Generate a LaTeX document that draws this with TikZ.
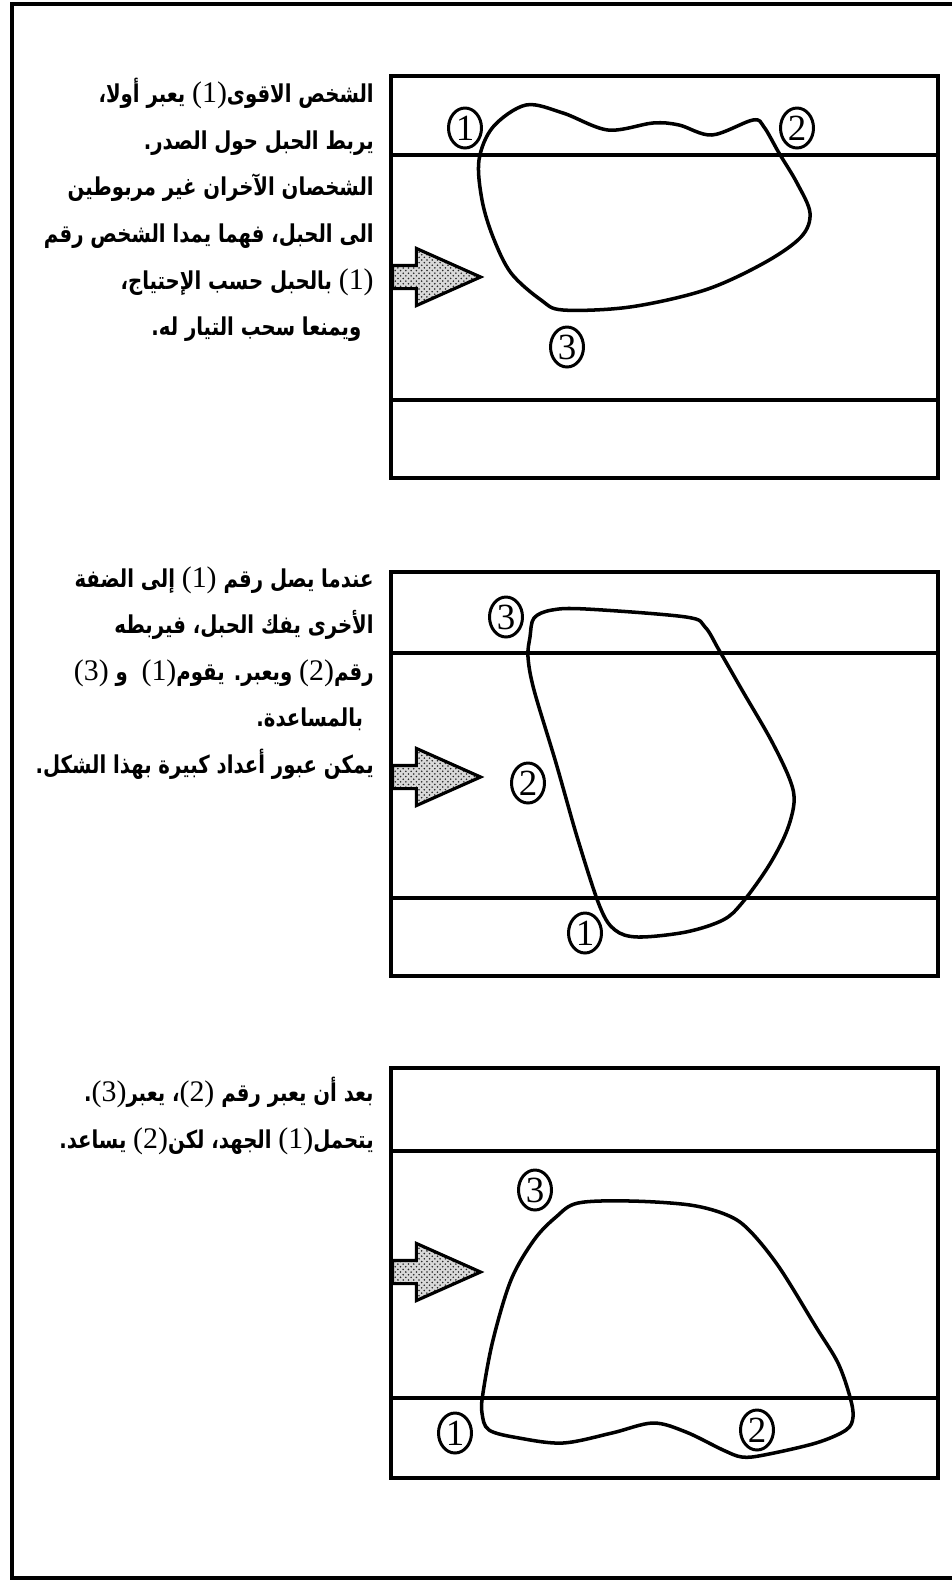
\documentclass[tikz,border=0pt]{standalone}
\usepackage{fontspec}
\usepackage{tikz}
\usetikzlibrary{shapes.geometric, shapes.arrows, patterns}
\TeXXeTstate=1
\newfontfamily\arabicfont[Script=Arabic, FakeStretch=0.8]{DejaVu Sans}
\newfontfamily\digitfont{Liberation Serif}
\newcommand{\rnum}[1]{\beginL{\digitfont\mdseries\fontsize{17}{17}\selectfont(#1)}\endL}

\begin{document}
\begin{tikzpicture}[x=0.02cm, y=-0.02cm,
    outerframe/.style={line width=2.8pt},
    panel/.style={line width=2.6pt},
    bank/.style={line width=2pt},
    rope/.style={line width=2pt, line join=round},
    pers/.style={ellipse, draw, line width=1.7pt, minimum width=0.66cm,
                 minimum height=0.8cm, inner sep=0pt,
                 font=\digitfont\fontsize{21}{21}\selectfont},
    flow/.style={single arrow, draw, line width=1.8pt, preaction={fill=black!15},
                 pattern=crosshatch dots, pattern color=black!85, inner sep=0.2cm,
                 minimum height=1.76cm, single arrow head extend=0.34cm,
                 single arrow tip angle=48, anchor=west},
    note/.style={anchor=north east, align=right, inner sep=0pt,
                 font=\arabicfont\bfseries\fontsize{14}{26.5}\selectfont}
  ]
  \useasboundingbox (0,0) rectangle (951,1583);
  \draw[outerframe] (12,4) rectangle (970,1578);

  % Panel 1
  \node[note] (txt1) at (374,78)
        {\beginR الشخص الاقوى\rnum{1} يعبر أولا،\endR\\
         \beginR يربط الحبل حول الصدر.\endR\\
         \beginR الشخصان الآخران غير مربوطين\endR\\
         \beginR الى الحبل، فهما يمدا الشخص رقم\endR\\
         \beginR \rnum{1} بالحبل حسب الإحتياج،\endR\\
         \beginR ويمنعا سحب التيار له.\endR\kern7pt};
  \draw[panel] (391,76) rectangle (938,478);
  \draw[bank] (391,155) -- (938,155);
  \draw[bank] (391,400) -- (938,400);
  \node[flow] (flow1) at (391,277) {};
  \draw[rope] plot[smooth cycle, tension=0.55] coordinates {
        (493,127) (526,105) (563,113) (608,130) (653,123) (679,125) (712,135)
        (753,120) (764,127) (779,153) (797,183) (810,213) (801,237) (764,263)
        (705,290) (630,307) (563,310) (541,300) (511,273) (493,237) (482,200)
        (479,160)};
  \node[pers] (a1) at (465,128) {1};
  \node[pers] (a2) at (797,128) {2};
  \node[pers] (a3) at (567,347) {3};

  % Panel 2
  \node[note] (txt2) at (374,566)
        {\beginR عندما يصل رقم \rnum{1} إلى الضفة\endR\\
         \beginR الأخرى يفك الحبل، فيربطه\endR\\
         \beginR رقم\rnum{2} ويعبر. يقوم\rnum{1}\ \ و \rnum{3}\endR\\
         \beginR بالمساعدة.\endR\kern6pt\\
         \beginR يمكن عبور أعداد كبيرة بهذا الشكل.\endR};
  \draw[panel] (391,572) rectangle (938,976);
  \draw[bank] (391,653) -- (938,653);
  \draw[bank] (391,898) -- (938,898);
  \node[flow] (flow2) at (391,777) {};
  \draw[rope] plot[smooth cycle, tension=0.55] coordinates {
        (530,637) (534,618) (552,610) (586,609) (686,617) (705,627) (719,650)
        (742,690) (771,740) (790,780) (794,803) (786,833) (768,867) (742,903)
        (723,920) (686,932) (638,937) (615,930) (600,907) (578,840) (556,763)
        (534,690) (528,657)};
  \node[pers] (b3) at (506,617) {3};
  \node[pers] (b2) at (528,783) {2};
  \node[pers] (b1) at (585,933) {1};

  % Panel 3
  \node[note] (txt3) at (374,1077)
        {\beginR بعد أن يعبر رقم \rnum{2}، يعبر\rnum{3}.\endR\\
         \beginR يتحمل\rnum{1} الجهد، لكن\rnum{2} يساعد.\endR};
  \draw[panel] (391,1068) rectangle (938,1478);
  \draw[bank] (391,1151) -- (938,1151);
  \draw[bank] (391,1398) -- (938,1398);
  \node[flow] (flow3) at (391,1272) {};
  \draw[rope] plot[smooth cycle, tension=0.55] coordinates {
        (556,1217) (578,1203) (630,1201) (690,1205) (727,1215) (749,1230)
        (779,1267) (816,1327) (838,1363) (850,1397) (853,1417) (846,1430)
        (816,1443) (764,1455) (742,1457) (723,1450) (686,1432) (653,1423)
        (612,1433) (563,1443) (519,1438) (489,1430) (482,1413) (483,1393)
        (493,1340) (511,1280) (534,1240)};
  \node[pers] (c3) at (535,1190) {3};
  \node[pers] (c1) at (455,1433) {1};
  \node[pers] (c2) at (757,1430) {2};
\end{tikzpicture}
\end{document}
